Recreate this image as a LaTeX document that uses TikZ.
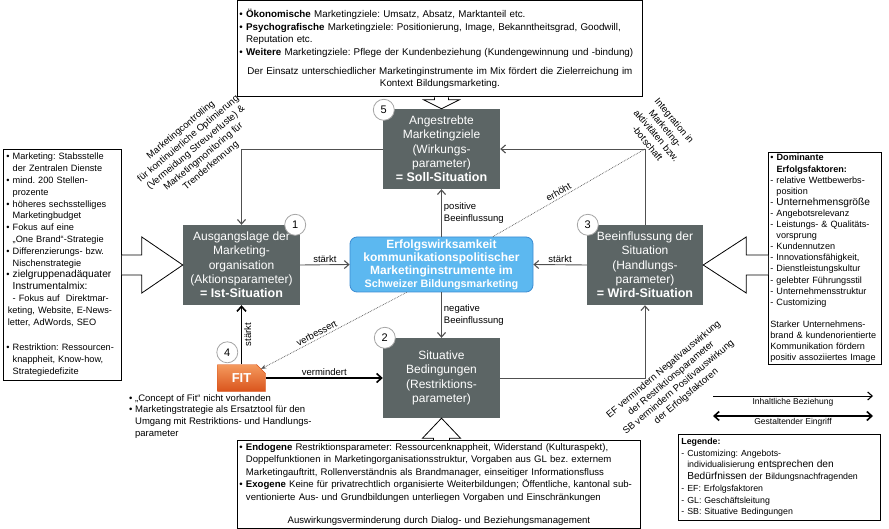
\documentclass[tikz,border=0pt]{standalone}
\usepackage{fontspec}
\setmainfont{Liberation Sans}
\usetikzlibrary{positioning,calc,arrows.meta,shapes.misc}
\AtBeginDocument{\frenchspacing}

\definecolor{sitgray}{HTML}{5C6565}
\definecolor{effblue}{HTML}{5CB8F0}
\definecolor{effborder}{HTML}{3C8CD2}
\definecolor{fitlight}{HTML}{F59A5E}
\definecolor{fitdark}{HTML}{D9541C}
\definecolor{linkgray}{HTML}{505050}

\newcommand{\setfs}[2]{\fontsize{#1}{#2}\selectfont}
\newcommand{\bulletmark}{\textbullet\ }
\newcommand{\contindent}{\phantom{\textbullet\ }}
\newcommand{\dashindent}{\phantom{- }}

\begin{document}
\begin{tikzpicture}[x=1pt, y=-1pt,
    txtbox/.style={rectangle, draw, line width=0.8pt, align=left, inner sep=3pt, anchor=north west},
    sitbox/.style={rectangle, fill=sitgray, text=white, minimum width=117pt, minimum height=80pt, align=center, inner sep=2pt, font=\setfs{12}{14.3}},
    effbox/.style={rectangle, rounded corners=7pt, fill=effblue, draw=effborder, line width=0.8pt, text=white, minimum width=183pt, minimum height=55pt, align=center, inner sep=1pt, font=\bfseries\setfs{12}{13}},
    fitbox/.style={chamfered rectangle, chamfered rectangle corners=north east, chamfered rectangle xsep=6pt, minimum width=48pt, minimum height=27pt, inner sep=1pt, top color=fitlight, bottom color=fitdark, draw=fitdark, text=white, font=\bfseries\setfs{13}{14}},
    numcirc/.style={circle, draw=gray!70, fill=white, line width=0.8pt, minimum size=21pt, inner sep=0pt, font=\setfs{11}{12}},
    hollow/.style={draw, line width=0.8pt, fill=white, line join=miter},
    link/.style={draw=linkgray, line width=0.9pt, -{Straight Barb[length=4.5pt, width=8pt, line width=1.1pt]}},
    heavy/.style={draw=black, line width=1.6pt, -{Straight Barb[length=5pt, width=9pt]}},
    heavyboth/.style={draw=black, line width=1.6pt, {Straight Barb[length=5pt, width=9pt]}-{Straight Barb[length=5pt, width=9pt]}},
    dotlink/.style={draw=linkgray, line width=0.7pt, densely dotted},
    lbl/.style={font=\setfs{9.5}{11.7}, inner sep=2pt},
    rotlabel/.style={align=center, inner sep=1pt, font=\setfs{9.5}{11.7}}
]
\useasboundingbox (0,0) rectangle (889,529);

% text boxes
\node[txtbox, text width=401pt, inner xsep=2pt, minimum height=96pt, font=\setfs{9.8}{12.5}] (goals) at (237,0.5) {%
\bulletmark\textbf{Ökonomische} Marketingziele: Umsatz, Absatz, Marktanteil etc.\\
\bulletmark\textbf{Psychografische} Marketingziele: Positionierung, Image, Bekanntheitsgrad, Goodwill,\\
\contindent Reputation etc.\\
\bulletmark\textbf{Weitere} Marketingziele: Pflege der Kundenbeziehung (Kundengewinnung und -bindung)\par
\vspace{6.5pt}
{\centering Der Einsatz unterschiedlicher Marketinginstrumente im Mix fördert die Zielerreichung im\\
Kontext Bildungsmarketing.\par}};

\node[txtbox, text width=399pt, inner xsep=2pt, minimum height=87pt, font=\setfs{9.6}{12.5}] (bot) at (237,440) {%
\bulletmark\textbf{Endogene} Restriktionsparameter: Ressourcenknappheit, Widerstand (Kulturaspekt),\\
\contindent Doppelfunktionen in Marketingorganisationsstruktur, Vorgaben aus GL bez. externem\\
\contindent Marketingauftritt, Rollenverständnis als Brandmanager, einseitiger Informationsfluss\\
\bulletmark\textbf{Exogene} Keine für privatrechtlich organisierte Weiterbildungen; Öffentliche, kantonal sub-\\
\contindent ventionierte Aus- und Grundbildungen unterliegen Vorgaben und Einschränkungen\par
\vspace{10.5pt}
{\centering Auswirkungsverminderung durch Dialog- und Beziehungsmanagement\par}};

\node[txtbox, text width=112pt, minimum height=231pt, font=\setfs{9.2}{11.8}] (lb) at (3,149) {%
\bulletmark Marketing: Stabsstelle\\
\contindent der Zentralen Dienste\\
\bulletmark mind. 200 Stellen-\\
\contindent prozente\\
\bulletmark höheres sechsstelliges\\
\contindent Marketingbudget\\
\bulletmark Fokus auf eine\\
\contindent „One Brand“-Strategie\\
\bulletmark Differenzierungs- bzw.\\
\contindent Nischenstrategie\\
\bulletmark{\setfs{10.2}{11.8}zielgruppenadäquater}\\
\contindent{\setfs{10.2}{11.8}Instrumentalmix:}\\
\contindent - Fokus auf\ \ Direktmar-\\
\hspace*{1.5pt}keting, Website, E-News-\\
\hspace*{1.5pt}letter, AdWords, SEO\\[14pt]
\bulletmark Restriktion: Ressourcen-\\
\contindent knappheit, Know-how,\\
\contindent Strategiedefizite};

\node[txtbox, text width=109pt, minimum height=209pt, inner sep=2pt, font=\setfs{9.1}{11.1}] (rb) at (768,152) {%
\bulletmark\textbf{Dominante}\\
\contindent\textbf{Erfolgsfaktoren:}\\
- relative Wettbewerbs-\\
\dashindent position\\
- {\setfs{10.2}{11.1}Unternehmensgröße}\\
- Angebotsrelevanz\\
- Leistungs- \& Qualitäts-\\
\dashindent vorsprung\\
- Kundennutzen\\
- Innovationsfähigkeit,\\
- Dienstleistungskultur\\
- gelebter Führungsstil\\
- Unternehmensstruktur\\
- Customizing\\[11.1pt]
Starker Unternehmens-\\
brand \& kundenorientierte\\
Kommunikation fördern\\
positiv assoziiertes Image};

\node[txtbox, text width=196pt, minimum height=86pt, font=\setfs{8.8}{11.7}] (legend) at (678,434) {%
\textbf{Legende:}\\
- Customizing: Angebots-\\
\dashindent individualisierung {\setfs{10.2}{11.7}entsprechen den}\\
\dashindent{\setfs{10.2}{11.7}Bedürfnissen} der Bildungsnachfragenden\\
- EF: Erfolgsfaktoren\\
- GL: Geschäftsleitung\\
- SB: Situative Bedingungen};

% situation nodes
\node[sitbox] (n5) at (441.5,149) {Angestrebte\\Marketingziele\\(Wirkungs-\\parameter)\\\textbf{\setfs{12.5}{14.3}= Soll-Situation}};
\node[sitbox] (n1) at (241.5,265) {Ausgangslage der\\Marketing-\\organisation\\(Aktionsparameter)\\\textbf{\setfs{12.5}{14.3}= Ist-Situation}};
\node[sitbox, minimum width=116pt] (n3) at (645,265) {Beeinflussung der\\Situation\\(Handlungs-\\parameter)\\\textbf{\setfs{12.5}{14.3}= Wird-Situation}};
\node[sitbox] (n2) at (441.5,378) {Situative\\Bedingungen\\(Restriktions-\\parameter)};
\node[effbox] (c) at (441.5,264.5) {Erfolgswirksamkeit\\kommunikationspolitischer\\Marketinginstrumente im\\{\setfs{10.8}{13}Schweizer Bildungsmarketing}};
\node[fitbox] (fit) at (241.5,378) {FIT};

% block arrows
\draw[hollow] ($(lb.east)+(0,-10)$) -- ($(n1.west)+(-41,-10)$) -- ($(n1.west)+(-41,-28)$) -- (n1.west)
    -- ($(n1.west)+(-41,28)$) -- ($(n1.west)+(-41,10)$) -- ($(lb.east)+(0,10)$);
\draw[hollow] ($(rb.west |- n3.east)+(0,-10)$) -- ($(n3.east)+(43,-10)$) -- ($(n3.east)+(43,-28)$) -- (n3.east)
    -- ($(n3.east)+(43,28)$) -- ($(n3.east)+(43,10)$) -- ($(rb.west |- n3.east)+(0,10)$);
\draw[hollow] ($(n5.north |- goals.south)+(-7,0)$) -- ($(n5.north)+(-7,-9)$) -- ($(n5.north)+(-18,-9)$) -- (n5.north)
    -- ($(n5.north)+(18,-9)$) -- ($(n5.north)+(7,-9)$) -- ($(n5.north |- goals.south)+(7,0)$);
\draw[hollow] ($(n2.south |- bot.north)+(-8,0)$) -- ($(n2.south)+(-8,20)$) -- ($(n2.south)+(-19,20)$) -- (n2.south)
    -- ($(n2.south)+(19,20)$) -- ($(n2.south)+(8,20)$) -- ($(n2.south |- bot.north)+(8,0)$);

% connectors
\draw[link] (n1.east) -- (c.west) node[midway, above, lbl] {stärkt};
\draw[link] (n3.west) -- (c.east) node[midway, above, lbl] {stärkt};
\draw[link] (c.north) -- (n5.south) node[midway, right, align=left, lbl] {positive\\Beeinflussung};
\draw[link] (c.south) -- (n2.north) node[midway, right, align=left, lbl] {negative\\Beeinflussung};
\draw[link] (n5.west) -| (n1.north);
\draw[link] (n3.north) |- (n5.east);
\draw[link] (n2.east) -| (n3.south);
\draw[heavy] (fit.north) -- (n1.south) node[midway, rotate=90, anchor=north, lbl] {stärkt};
\draw[heavy] (fit.east) -- (n2.west) node[midway, above, lbl] {vermindert};

\coordinate (vbStart) at ($(c.south west)!0.31!(c.south east)$);
\coordinate (erStart) at ($(c.north west)!0.78!(c.north east)$);
\coordinate (corner) at (n3.north |- n5.east);
\draw[dotlink, -{Stealth[length=5pt, width=4pt]}] (vbStart) -- (fit.north east) node[pos=0.6, sloped, above, lbl] {verbessert};
\draw[dotlink] (erStart) -- (corner) node[pos=0.45, sloped, above, lbl] {erhöht};

% numbers
\node[numcirc] (c5) at ($(n5.north west)+(1,1)$) {5};
\node[numcirc] (c1) at ($(n1.north east)+(-5,0)$) {1};
\node[numcirc] (c3) at ($(n3.north west)+(1,0)$) {3};
\node[numcirc] (c2) at ($(n2.north west)+(2,0)$) {2};
\node[numcirc] (c4) at ($(fit.north west)+(10,-12)$) {4};

% rotated notes
\node[rotlabel, rotate=40] (ctrl) at (196,148) {Marketingcontrolling\\für kontinuierliche Optimierung\\(Vermeidung Streuverluste) \&\\Marketingmonitoring für\\Trenderkennung};
\node[rotlabel, rotate=-50] (integ) at (661,132) {Integration in\\Marketing-\\aktivitäten bzw.\\-botschaft};
\node[rotlabel, rotate=40] (efsb) at (675,383) {EF vermindern Negativauswirkung\\der Restriktionsparameter\\SB vermindern Positivauswirkung\\der Erfolgsfaktoren};

\node[align=left, anchor=north west, inner sep=0pt, font=\setfs{9.5}{11.7}] (fitnote) at (129,394) {%
\bulletmark„Concept of Fit“ nicht vorhanden\\
\bulletmark Marketingstrategie als Ersatztool für den\\
\contindent Umgang mit Restriktions- und Handlungs-\\
\contindent parameter};

% legend arrows
\coordinate (lgOneA) at (713,396);
\coordinate (lgOneB) at (873,396);
\coordinate (lgTwoA) at (713,416);
\coordinate (lgTwoB) at (873,416);
\draw[link, draw=black] (lgOneA) -- (lgOneB) node[midway, below, font=\setfs{8.5}{10}, inner sep=1.5pt] {Inhaltliche Beziehung};
\draw[heavyboth] (lgTwoA) -- (lgTwoB) node[midway, below, font=\setfs{8.5}{10}, inner sep=2pt] {Gestaltender Eingriff};

\end{tikzpicture}
\end{document}
